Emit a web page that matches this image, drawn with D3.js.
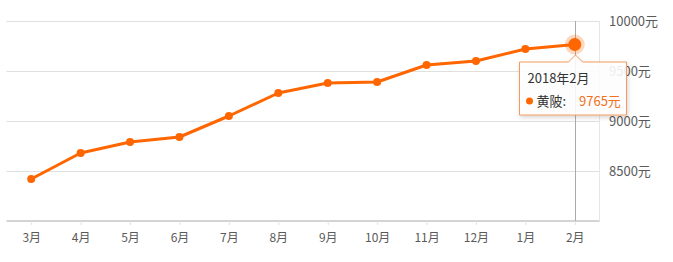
<!DOCTYPE html>
<html>
<head>
<meta charset="utf-8">
<style>
body { margin: 0; background: #fff; }
svg { display: block; font-family: "Noto Sans CJK SC", "Noto Sans", sans-serif; }
</style>
</head>
<body>
<svg width="673" height="262"></svg>
<script src="https://d3js.org/d3.v7.min.js"></script>
<script>
// monthly average price, Huangpi
var months = ["3月", "4月", "5月", "6月", "7月", "8月", "9月", "10月", "11月", "12月", "1月", "2月"];
var prices = [8420, 8680, 8790, 8840, 9050, 9280, 9380, 9390, 9560, 9600, 9720, 9765];
var yTicks = [8500, 9000, 9500, 10000];
var seriesName = "黄陂";
var tipTitle = "2018年2月";

var svg = d3.select("svg"),
    plotL = 6.5, plotR = 599.5, plotT = 21, plotB = 221,
    orange = "#ff6600";

var x = d3.scalePoint().domain(months).range([plotL, plotR]).padding(0.5);
var y = d3.scaleLinear().domain([8000, 10000]).range([plotB, plotT]);

var defs = svg.append("defs");
var f = defs.append("filter").attr("id", "shadow").attr("x", "-20%").attr("y", "-20%").attr("width", "140%").attr("height", "150%");
f.append("feDropShadow").attr("dx", 1).attr("dy", 2).attr("stdDeviation", 2).attr("flood-color", "#000").attr("flood-opacity", 0.18);

// grid
svg.append("g")
    .selectAll("line")
    .data(yTicks)
    .enter().append("line")
      .attr("x1", plotL).attr("x2", plotR)
      .attr("y1", function(d) { return Math.round(y(d)) + 0.5; })
      .attr("y2", function(d) { return Math.round(y(d)) + 0.5; })
      .attr("stroke", "#e0e0e0");

svg.append("line")
    .attr("x1", plotR).attr("x2", plotR).attr("y1", plotT).attr("y2", plotB)
    .attr("stroke", "#e6e6e6");

// x axis
var xAxis = svg.append("g")
    .attr("transform", "translate(0," + plotB + ")")
    .call(d3.axisBottom(x).tickSize(4).tickPadding(8));
xAxis.select(".domain").remove();
xAxis.insert("line", ":first-child")
    .attr("x1", plotL).attr("x2", plotR)
    .attr("stroke", "#d4d4d4").attr("stroke-width", 2);
xAxis.selectAll(".tick line").attr("stroke", "#e2e2e2");
xAxis.selectAll(".tick text")
    .attr("fill", "#5a5a5a")
    .attr("font-size", 12)
    .attr("font-family", "\"Noto Sans CJK SC\", sans-serif");

// y labels on the right
svg.append("g")
    .selectAll("text")
    .data(yTicks)
    .enter().append("text")
      .attr("x", 609)
      .attr("y", function(d) { return y(d); })
      .attr("dy", "0.35em")
      .attr("fill", "#5a5a5a")
      .attr("font-size", 13)
      .text(function(d) { return d + "元"; });

// crosshair at the last month
var last = months.length - 1;
svg.append("line")
    .attr("x1", Math.round(x(months[last])) + 0.5).attr("x2", Math.round(x(months[last])) + 0.5)
    .attr("y1", plotT).attr("y2", plotB)
    .attr("stroke", "#aaa");

var line = d3.line()
    .x(function(d, i) { return x(months[i]); })
    .y(function(d) { return y(d); });

svg.append("path")
    .datum(prices)
    .attr("fill", "none")
    .attr("stroke", orange)
    .attr("stroke-width", 3)
    .attr("stroke-linejoin", "round")
    .attr("d", line);

svg.append("g")
    .selectAll("circle")
    .data(prices)
    .enter().append("circle")
      .attr("cx", function(d, i) { return x(months[i]); })
      .attr("cy", function(d) { return y(d); })
      .attr("r", 4)
      .attr("fill", orange);

// highlighted point
var hx = x(months[last]), hy = y(prices[last]);
svg.append("circle").attr("cx", hx).attr("cy", hy).attr("r", 10).attr("fill", orange).attr("opacity", 0.25);
svg.append("circle").attr("cx", hx).attr("cy", hy).attr("r", 6.5).attr("fill", orange);

// tooltip
var tx = 519.5, ty = 62, tw = 107, th = 53, ax = Math.round(hx) + 0.5;
var tip = svg.append("g");
tip.append("path")
    .attr("d", "M" + tx + "," + ty + "H" + (ax - 7) + "L" + ax + "," + (ty - 7) + "L" + (ax + 7) + "," + ty +
               "H" + (tx + tw) + "V" + (ty + th) + "H" + tx + "Z")
    .attr("fill", "rgba(255,255,255,0.88)")
    .attr("stroke", "#f39a5e")
    .attr("filter", "url(#shadow)");
tip.append("text")
    .attr("x", tx + 8).attr("y", ty + 16.5).attr("dy", "0.35em")
    .attr("font-size", 13).attr("fill", "#333")
    .text(tipTitle);
tip.append("circle")
    .attr("cx", tx + 10).attr("cy", ty + 39).attr("r", 3.5).attr("fill", orange);
tip.append("text")
    .attr("x", tx + 17).attr("y", ty + 39).attr("dy", "0.35em")
    .attr("font-size", 13).attr("fill", "#333")
    .text(seriesName + ":");
tip.append("text")
    .attr("x", tx + 59.5).attr("y", ty + 39).attr("dy", "0.35em")
    .attr("font-size", 13).attr("fill", "#f07020")
    .text(prices[last] + "元");
</script>
</body>
</html>
